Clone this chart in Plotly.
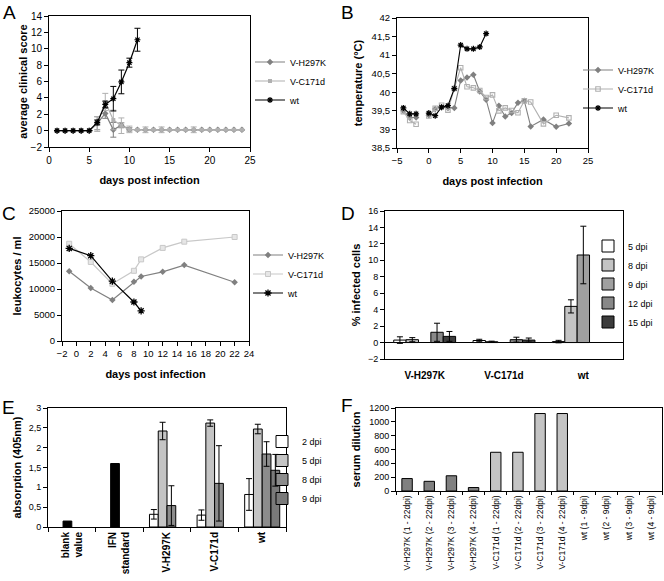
import plotly.graph_objects as go

W, H = 664, 581

# ---------------- Panel A: average clinical score ----------------
days_a = [1, 2, 3, 4, 5, 6, 7, 8, 9, 10, 11, 12, 13, 14, 15, 16, 17, 18, 19, 20, 21, 22, 23, 24]
score_h297k = [0, 0, 0, 0, 0, 0.9, 2.1, 0.1, 0.65, 0.15, 0.1, 0.1, 0.1, 0.1, 0.1, 0.1, 0.1, 0.1, 0.1, 0.1, 0.1, 0.1, 0.1, 0.1]
score_h297k_err = [None, None, None, None, None, 0.8, 0.6, 0.9, 0.3, 0.2, None, None, None, None, None, None, None, None, None, None, None, None, None, None]
score_c171d = [0, 0, 0, 0, 0, 0.8, 3.5, 1.3, 0.6, 0.15, 0.1, 0.1, 0.1, 0.1, 0.1, 0.1, 0.1, 0.1, 0.1, 0.1, 0.1, 0.1, 0.1, 0.1]
score_c171d_err = [None, None, None, None, None, 0.9, 1.05, 1.2, 0.95, 0.4, None, 0.35, None, 0.35, None, None, None, 0.35, None, None, None, None, None, None]
days_a_wt = [1, 2, 3, 4, 5, 6, 7, 8, 9, 10, 11]
score_wt = [0, 0, 0, 0, 0, 1.0, 3.2, 3.9, 5.95, 8.3, 11.1]
score_wt_err = [None, None, None, None, None, 0.3, 0.4, 1.5, 1.45, 0.55, 1.4]

# ---------------- Panel B: temperature ----------------
days_b = [-4, -3, -2, -1, 0, 1, 2, 3, 4, 5, 6, 7, 8, 9, 10, 11, 12, 13, 14, 15, 16, 18, 20, 22]
temp_h297k = [39.5, 39.32, 39.32, None, 39.38, 39.55, 39.6, 39.58, 39.58, 40.32, 40.4, 40.47, 40.02, 39.8,
              39.17, 39.64, 39.35, 39.44, 39.72, 39.77, 39.08, 39.27, 39.07, 39.16]
temp_c171d = [39.48, 39.24, 39.14, None, 39.36, 39.57, 39.65, 39.52, 40.1, 40.66, 40.15, 40.12, 40.05, 39.86,
              39.93, 39.5, 39.58, 39.51, 39.45, 39.77, 39.74, 39.15, 39.38, 39.31]
days_b_wt = [-4, -3, -2, -1, 0, 1, 2, 3, 4, 5, 6, 7, 8, 9]
temp_wt = [39.58, 39.42, 39.42, None, 39.44, 39.37, 39.6, 39.64, 40.1, 41.27, 41.17, 41.17, 41.22, 41.58]
temp_ticks = [38.5, 39, 39.5, 40, 40.5, 41, 41.5, 42]
temp_ticktext = ["38,5", "39", "39,5", "40", "40,5", "41", "41,5", "42"]

# ---------------- Panel C: leukocytes ----------------
days_c = [-1, 2, 5, 8, 9, 12, 15, 22]
leuko_h297k = [13400, 10200, 7900, 11400, 12400, 13300, 14600, 11300]
leuko_c171d = [18700, 15200, 11000, 13500, 15700, 17900, 19100, 20000]
days_c_wt = [-1, 2, 5, 8, 9]
leuko_wt = [17800, 16400, 11500, 7500, 5800]

# ---------------- Panel D: % infected cells ----------------
d_groups = ["V-H297K", "V-C171d", "wt"]
d_series = ["5 dpi", "8 dpi", "9 dpi", "12 dpi", "15 dpi"]
d_values = {
    "5 dpi": [0.3, 0.25, 0.12],
    "8 dpi": [0.35, 0.1, 4.4],
    "9 dpi": [None, None, 10.65],
    "12 dpi": [1.25, 0.35, None],
    "15 dpi": [0.75, 0.3, None],
}
d_errors = {
    "5 dpi": [0.4, 0.15, 0.15],
    "8 dpi": [0.25, 0.07, 0.8],
    "9 dpi": [None, None, 3.5],
    "12 dpi": [1.1, 0.3, None],
    "15 dpi": [0.6, 0.25, None],
}
d_colors = {"5 dpi": "#ffffff", "8 dpi": "#c4c4c4", "9 dpi": "#a0a0a0", "12 dpi": "#888888", "15 dpi": "#3c3c3c"}

# ---------------- Panel E: absorption ----------------
e_groups = ["blank<br>value", "IFN<br>standard", "V-H297K", "V-C171d", "wt"]
e_control = [0.15, 1.6, None, None, None]
e_series = ["2 dpi", "5 dpi", "8 dpi", "9 dpi"]
e_values = {
    "2 dpi": [None, None, 0.32, 0.3, 0.82],
    "5 dpi": [None, None, 2.42, 2.62, 2.47],
    "8 dpi": [None, None, 0.54, 1.1, 1.84],
    "9 dpi": [None, None, None, None, 1.43],
}
e_errors = {
    "2 dpi": [None, None, 0.12, 0.13, 0.4],
    "5 dpi": [None, None, 0.22, 0.08, 0.12],
    "8 dpi": [None, None, 0.5, 0.95, 0.31],
    "9 dpi": [None, None, None, None, 0.4],
}
e_colors = {"2 dpi": "#ffffff", "5 dpi": "#c4c4c4", "8 dpi": "#8c8c8c", "9 dpi": "#7a7a7a"}
e_ticks = [0, 0.5, 1, 1.5, 2, 2.5, 3]
e_ticktext = ["0", "0,5", "1", "1,5", "2", "2,5", "3"]

# ---------------- Panel F: serum dilution ----------------
f_labels = ["V-H297K (1 - 22dpi)", "V-H297K (2 - 22dpi)", "V-H297K (3 - 22dpi)", "V-H297K (4 - 22dpi)",
            "V-C171d (1 - 22dpi)", "V-C171d (2 - 22dpi)", "V-C171d (3 - 22dpi)", "V-C171d (4 - 22dpi)",
            "wt (1 - 9dpi)", "wt (2 - 9dpi)", "wt (3 - 9dpi)", "wt (4 - 9dpi)"]
f_virus = ["V-H297K"] * 4 + ["V-C171d"] * 4 + ["wt"] * 4
f_values = [180, 140, 220, 50, 560, 560, 1120, 1120, 0, 0, 0, 0]
f_colors = {"V-H297K": "#808080", "V-C171d": "#c4c4c4", "wt": "#ffffff"}

C_H = "#808080"
C_C = "#b0b0b0"
C_C_LIGHT = "#c8c8c8"
FONT = "Liberation Sans, Arial, sans-serif"

# bar slot geometry for panel E (style)
E_BAR_W = 0.184
E_START = -0.368


def px_x(a, b):
    return [a / W, b / W]


def px_y(top, bottom):
    return [1 - bottom / H, 1 - top / H]


fig = go.Figure()

# ---- A ----
fig.add_trace(go.Scatter(x=days_a, y=score_h297k, name="V-H297K", mode="lines+markers",
                         line=dict(color=C_H, width=1.2), marker=dict(symbol="diamond", size=5, color=C_H),
                         error_y=dict(type="data", array=score_h297k_err, color=C_H, thickness=1, width=3),
                         xaxis="x", yaxis="y", legend="legend"))
fig.add_trace(go.Scatter(x=days_a, y=score_c171d, name="V-C171d", mode="lines+markers",
                         line=dict(color=C_C, width=1.2), marker=dict(symbol="square", size=4, color=C_C),
                         error_y=dict(type="data", array=score_c171d_err, color=C_C, thickness=1, width=3),
                         xaxis="x", yaxis="y", legend="legend"))
fig.add_trace(go.Scatter(x=days_a_wt, y=score_wt, name="wt", mode="lines+markers",
                         line=dict(color="black", width=1.2),
                         marker=dict(symbol="asterisk-open", size=5, color="black", line=dict(width=1.2, color="black")),
                         error_y=dict(type="data", array=score_wt_err, color="black", thickness=1, width=3),
                         xaxis="x", yaxis="y", legend="legend"))

# ---- B ----
fig.add_trace(go.Scatter(x=days_b, y=temp_h297k, name="V-H297K", mode="lines+markers", connectgaps=False,
                         line=dict(color=C_H, width=1.1), marker=dict(symbol="diamond", size=5, color=C_H),
                         xaxis="x2", yaxis="y2", legend="legend2"))
fig.add_trace(go.Scatter(x=days_b, y=temp_c171d, name="V-C171d", mode="lines+markers", connectgaps=False,
                         line=dict(color=C_C, width=1.1),
                         marker=dict(symbol="square-open", size=4.5, color=C_C, line=dict(width=1.1, color=C_C)),
                         xaxis="x2", yaxis="y2", legend="legend2"))
fig.add_trace(go.Scatter(x=days_b_wt, y=temp_wt, name="wt", mode="lines+markers", connectgaps=False,
                         line=dict(color="black", width=1.1),
                         marker=dict(symbol="asterisk-open", size=5, color="black", line=dict(width=1.2, color="black")),
                         xaxis="x2", yaxis="y2", legend="legend2"))

# ---- C ----
fig.add_trace(go.Scatter(x=days_c, y=leuko_h297k, name="V-H297K", mode="lines+markers",
                         line=dict(color=C_H, width=1.2), marker=dict(symbol="diamond", size=5, color=C_H),
                         xaxis="x3", yaxis="y3", legend="legend3"))
fig.add_trace(go.Scatter(x=days_c, y=leuko_c171d, name="V-C171d", mode="lines+markers",
                         line=dict(color=C_C_LIGHT, width=1.2),
                         marker=dict(symbol="square", size=5, color="#e6e6e6", line=dict(width=1, color=C_C_LIGHT)),
                         xaxis="x3", yaxis="y3", legend="legend3"))
fig.add_trace(go.Scatter(x=days_c_wt, y=leuko_wt, name="wt", mode="lines+markers",
                         line=dict(color="black", width=1.2),
                         marker=dict(symbol="asterisk-open", size=6, color="black", line=dict(width=1.3, color="black")),
                         xaxis="x3", yaxis="y3", legend="legend3"))

# ---- D ----
for s in d_series:
    fig.add_trace(go.Bar(x=d_groups, y=d_values[s], name=s,
                         marker=dict(color=d_colors[s], line=dict(color="black", width=1)),
                         error_y=dict(type="data", array=d_errors[s], color="black", thickness=1, width=3),
                         xaxis="x4", yaxis="y4", legend="legend4"))

# ---- E ----
fig.add_trace(go.Bar(x=e_groups, y=e_control, name="control", showlegend=False,
                     width=E_BAR_W, offset=E_START + E_BAR_W * 1,
                     marker=dict(color="black", line=dict(color="black", width=1)),
                     xaxis="x5", yaxis="y5", legend="legend5"))
for k, s in enumerate(e_series):
    fig.add_trace(go.Bar(x=e_groups, y=e_values[s], name=s,
                         width=E_BAR_W, offset=E_START + E_BAR_W * k,
                         marker=dict(color=e_colors[s], line=dict(color="black", width=1)),
                         error_y=dict(type="data", array=e_errors[s], color="black", thickness=1, width=3),
                         xaxis="x5", yaxis="y5", legend="legend5"))

# ---- F ----
fig.add_trace(go.Bar(x=f_labels, y=f_values, name="serum", showlegend=False, width=0.47,
                     marker=dict(color=[f_colors[v] for v in f_virus],
                                 line=dict(color="black", width=[1 if v > 0 else 0 for v in f_values])),
                     xaxis="x6", yaxis="y6"))

base = dict(showline=True, linecolor="black", linewidth=1, mirror=True, ticks="outside", ticklen=4,
            tickcolor="black", tickwidth=1, showgrid=False, zeroline=False, automargin=False,
            tickfont=dict(size=10, color="black", family=FONT))
title_font = dict(size=11, color="black", family=FONT, weight="bold")


def ax(**kw):
    d = dict(base)
    d.update(kw)
    return d


layout = dict(
    width=W, height=H, margin=dict(l=0, r=0, t=0, b=0),
    paper_bgcolor="white", plot_bgcolor="white",
    font=dict(family=FONT, color="black"),
    barmode="group", bargap=0.22, bargroupgap=0,
    # A
    xaxis=ax(domain=px_x(49, 250), anchor="y", range=[0, 25], dtick=5, tick0=0,
             title=dict(text="days post infection", font=title_font, standoff=11)),
    yaxis=ax(domain=px_y(16, 147), anchor="x", range=[-2, 14], dtick=2, tick0=0,
             title=dict(text="average clinical score", font=title_font, standoff=0)),
    # B
    xaxis2=ax(domain=px_x(397, 588), anchor="y2", range=[-5, 25], dtick=5, tick0=0,
              tickfont=dict(size=9.5, color="black", family=FONT),
              title=dict(text="days post infection", font=title_font, standoff=11)),
    yaxis2=ax(domain=px_y(18, 148), anchor="x2", range=[38.5, 42], tickvals=temp_ticks, ticktext=temp_ticktext,
              tickfont=dict(size=9.5, color="black", family=FONT),
              title=dict(text="temperature (°C)", font=title_font, standoff=6)),
    # C
    xaxis3=ax(domain=px_x(62, 249), anchor="y3", range=[-2, 24], dtick=2, tick0=0,
              tickfont=dict(size=9.5, color="black", family=FONT),
              title=dict(text="days post infection", font=title_font, standoff=11)),
    yaxis3=ax(domain=px_y(211, 341), anchor="x3", range=[0, 25000], dtick=5000, tick0=0, tickformat="d",
              tickfont=dict(size=9.5, color="black", family=FONT),
              title=dict(text="leukocytes / ml", font=title_font, standoff=4)),
    # D
    xaxis4=ax(domain=px_x(385, 623), anchor="y4", ticks="", ticklabelstandoff=7, range=[-0.5, 2.5],
              tickfont=dict(size=10, color="black", family=FONT, weight="bold")),
    yaxis4=ax(domain=px_y(211, 359), anchor="x4", range=[-2, 16], dtick=2, tick0=0,
              tickfont=dict(size=9, color="black", family=FONT),
              zeroline=True, zerolinecolor="black", zerolinewidth=1,
              title=dict(text="% infected cells", font=title_font, standoff=5)),
    # E
    xaxis5=ax(domain=px_x(48, 286), anchor="y5", tickangle=-90, tickson="boundaries", range=[-0.5, 4.5],
              tickfont=dict(size=10, color="black", family=FONT, weight="bold")),
    yaxis5=ax(domain=px_y(408, 527), anchor="x5", range=[0, 3], tickvals=e_ticks, ticktext=e_ticktext,
              tickfont=dict(size=9, color="black", family=FONT),
              title=dict(text="absorption (405nm)", font=title_font, standoff=4)),
    # F
    xaxis6=ax(domain=px_x(396, 662), anchor="y6", tickangle=-90, tickson="boundaries", ticklen=3,
              range=[-0.5, 11.5], tickfont=dict(size=8.5, color="black", family=FONT)),
    yaxis6=ax(domain=px_y(408, 491), anchor="x6", range=[0, 1200], dtick=200, tick0=0,
              tickfont=dict(size=9, color="black", family=FONT),
              title=dict(text="serum dilution", font=title_font, standoff=6)),
)

leg_common = dict(bgcolor="rgba(0,0,0,0)", borderwidth=0, font=dict(size=9, color="black", family=FONT),
                  xanchor="left", yanchor="middle", tracegroupgap=0)
layout["legend"] = dict(leg_common, x=250 / W, y=1 - 81 / H)
layout["legend2"] = dict(leg_common, x=578 / W, y=1 - 89 / H)
layout["legend3"] = dict(leg_common, x=248 / W, y=1 - 274 / H)
layout["legend4"] = dict(leg_common, x=588 / W, y=1 - 284 / H)
layout["legend5"] = dict(leg_common, x=262 / W, y=1 - 470 / H)

letters = [("A", 1, 0), ("B", 339, 0), ("C", 0, 201), ("D", 339, 201), ("E", 0, 395), ("F", 339, 393)]
layout["annotations"] = [
    dict(text=t, x=x / W, y=1 - y / H, xref="paper", yref="paper", xanchor="left", yanchor="top",
         showarrow=False, font=dict(size=19, color="black", family=FONT))
    for t, x, y in letters
]

fig.update_layout(**layout)
fig.write_html("out.html", config={"displayModeBar": False},
               post_script="document.body.style.margin='0';document.body.style.padding='0';")
